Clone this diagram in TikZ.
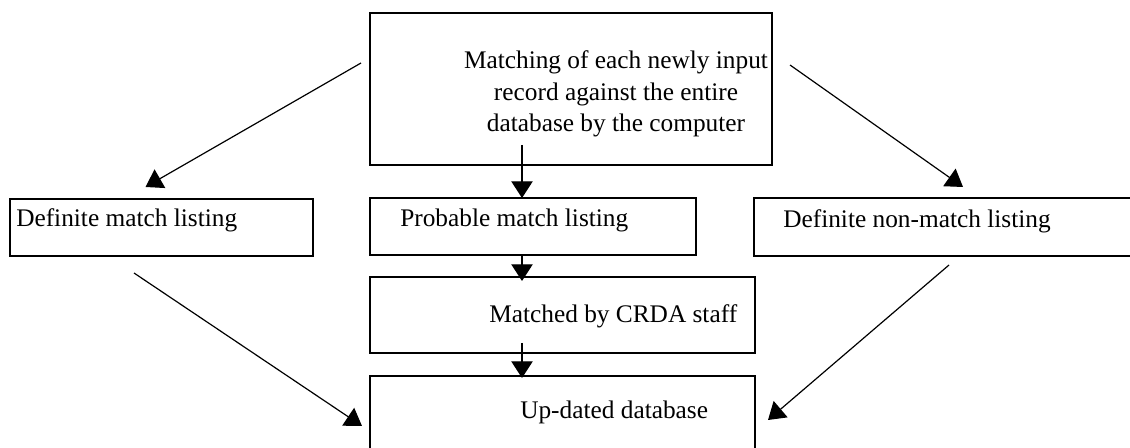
\documentclass[tikz,border=0pt]{standalone}
\usepackage{fontspec}
\setmainfont{Liberation Serif}
\usetikzlibrary{calc, arrows.meta}

\tikzset{
  box/.style={draw, line width=1pt, inner sep=0pt, outer sep=0pt},
  txt/.style={inner sep=0pt, font=\fontsize{19}{23.6}\selectfont},
  arr/.style={line width=0.9pt, -{Triangle[length=12.5pt, width=16pt]}}
}

\begin{document}
\begin{tikzpicture}[x=0.75pt, y=-0.75pt]
  \useasboundingbox (0,0) rectangle (1130,448);

  % 方框
  \node[box, minimum width=301.5pt, minimum height=114pt] (top) at (571,89) {};
  \node[box, minimum width=227.25pt, minimum height=42.75pt] (dm) at (161.5,227.5) {};
  \node[box, minimum width=244.5pt, minimum height=42.75pt] (pm) at (533,226.5) {};
  \node[box, minimum width=289.5pt, minimum height=43.5pt] (nm) at (947,227) {};
  \node[box, minimum width=288.75pt, minimum height=57pt] (crda) at (562.5,315) {};
  \node[box, minimum width=288.75pt, minimum height=63pt] (upd) at (562.5,418) {};

  % 文字
  \node[txt, align=center] (toptxt) at (616,94)
    {Matching of each newly input\\record against the entire\\database by the computer};
  \node[txt, anchor=base west] (dmtxt) at (16,227) {Definite match listing};
  \node[txt, anchor=base west] (pmtxt) at (400,227) {Probable match listing};
  \node[txt, anchor=base west] (nmtxt) at (783,228) {Definite non-match listing};
  \node[txt, anchor=base west] (crdatxt) at (489,323) {Matched by CRDA staff};
  \node[txt, anchor=base west] (updtxt) at (520,418) {Up-dated database};

  % 箭头端点
  \coordinate (tl) at ($(top.north west)+(-9,50)$);
  \coordinate (tr) at ($(top.north east)+(18,52)$);
  \coordinate (dmtip) at ($(dm.north)+(-16,-12)$);
  \coordinate (nmtip) at ($(nm.north)+(16,-11)$);
  \coordinate (mid) at ($(top.south)+(-49,-20)$);
  \coordinate (bl) at ($(dm.south west)+(124,17)$);
  \coordinate (br) at ($(nm.south west)+(195,9)$);
  \coordinate (blt) at ($(upd.north west)+(-8,50)$);
  \coordinate (brt) at ($(upd.north east)+(13,44)$);

  % 连线
  \draw[arr] (tl) -- (dmtip);
  \draw[arr] (tr) -- (nmtip);
  \draw[arr] (mid) -- (pm.north -| mid);
  \draw[arr] (pm.south -| mid) -- ([yshift=-3]crda.north -| mid);
  \draw[arr] ([yshift=7.5]crda.south -| mid) -- ([yshift=-1.5]upd.north -| mid);
  \draw[arr] (bl) -- (blt);
  \draw[arr] (br) -- (brt);
\end{tikzpicture}
\end{document}
